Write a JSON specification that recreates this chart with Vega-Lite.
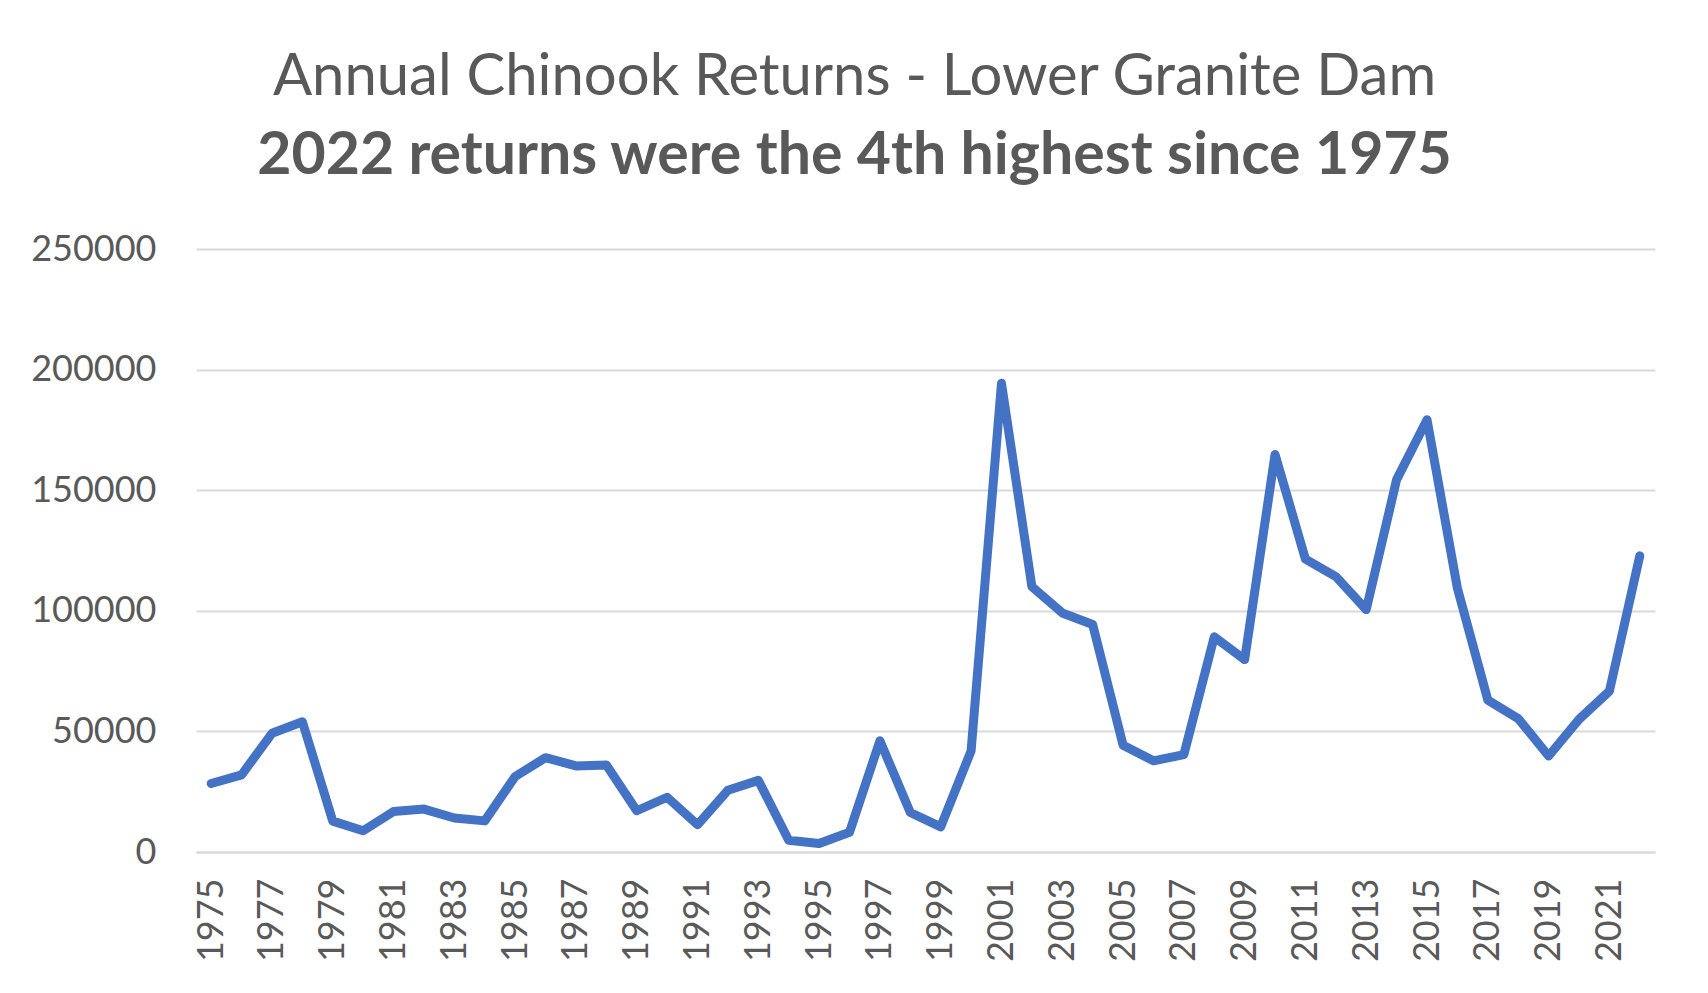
{
  "$schema": "https://vega.github.io/schema/vega-lite/v6.json",
  "autosize": {"type": "none"},
  "padding": {"left": 196, "top": 249, "right": 53, "bottom": 141},
  "width": 1459,
  "height": 603,
  "background": "white",
  "title": {
    "text": "Annual Chinook Returns - Lower Granite Dam",
    "subtitle": "2022 returns were the 4th highest since 1975",
    "anchor": "middle",
    "frame": "group",
    "dx": -71,
    "offset": 45,
    "font": "Lato",
    "fontSize": 58,
    "fontWeight": "normal",
    "color": "#595959",
    "subtitleFont": "Lato",
    "subtitleFontSize": 59,
    "subtitleFontWeight": "bold",
    "subtitleColor": "#595959",
    "subtitlePadding": 20
  },
  "config": {
    "view": {"stroke": null},
    "axis": {"labelFont": "Lato", "labelColor": "#595959", "labelFontSize": 36}
  },
  "data": {
    "values": [
      {"year": 1975, "returns": 28400},
      {"year": 1976, "returns": 32000},
      {"year": 1977, "returns": 49200},
      {"year": 1978, "returns": 54000},
      {"year": 1979, "returns": 12800},
      {"year": 1980, "returns": 8800},
      {"year": 1981, "returns": 16800},
      {"year": 1982, "returns": 17800},
      {"year": 1983, "returns": 14100},
      {"year": 1984, "returns": 12900},
      {"year": 1985, "returns": 31300},
      {"year": 1986, "returns": 39100},
      {"year": 1987, "returns": 35700},
      {"year": 1988, "returns": 36100},
      {"year": 1989, "returns": 17100},
      {"year": 1990, "returns": 22700},
      {"year": 1991, "returns": 11300},
      {"year": 1992, "returns": 25600},
      {"year": 1993, "returns": 29700},
      {"year": 1994, "returns": 4900},
      {"year": 1995, "returns": 3500},
      {"year": 1996, "returns": 8200},
      {"year": 1997, "returns": 46100},
      {"year": 1998, "returns": 16400},
      {"year": 1999, "returns": 10400},
      {"year": 2000, "returns": 41900},
      {"year": 2001, "returns": 194300},
      {"year": 2002, "returns": 110000},
      {"year": 2003, "returns": 99100},
      {"year": 2004, "returns": 94300},
      {"year": 2005, "returns": 44300},
      {"year": 2006, "returns": 37800},
      {"year": 2007, "returns": 40400},
      {"year": 2008, "returns": 89200},
      {"year": 2009, "returns": 79800},
      {"year": 2010, "returns": 164800},
      {"year": 2011, "returns": 121400},
      {"year": 2012, "returns": 114200},
      {"year": 2013, "returns": 100500},
      {"year": 2014, "returns": 154400},
      {"year": 2015, "returns": 179200},
      {"year": 2016, "returns": 109300},
      {"year": 2017, "returns": 63000},
      {"year": 2018, "returns": 55300},
      {"year": 2019, "returns": 39800},
      {"year": 2020, "returns": 55000},
      {"year": 2021, "returns": 66700},
      {"year": 2022, "returns": 122800}
    ]
  },
  "mark": {"type": "line", "color": "#4472C4", "strokeWidth": 9, "strokeCap": "round", "strokeJoin": "round"},
  "encoding": {
    "x": {
      "field": "year",
      "type": "ordinal",
      "scale": {"type": "point", "padding": 0.5},
      "axis": {
        "title": null,
        "values": [1975,1977,1979,1981,1983,1985,1987,1989,1991,1993,1995,1997,1999,2001,2003,2005,2007,2009,2011,2013,2015,2017,2019,2021],
        "labelAngle": -90,
        "labelPadding": 26,
        "ticks": false,
        "domain": true,
        "domainColor": "#D9D9D9",
        "domainWidth": 2,
        "grid": false
      }
    },
    "y": {
      "field": "returns",
      "type": "quantitative",
      "scale": {"domain": [0, 250000], "nice": false},
      "axis": {
        "title": null,
        "values": [0, 50000, 100000, 150000, 200000, 250000],
        "format": "d",
        "ticks": false,
        "domain": false,
        "grid": true,
        "gridColor": "#D9D9D9",
        "gridWidth": 2,
        "labelPadding": 40
      }
    }
  }
}
